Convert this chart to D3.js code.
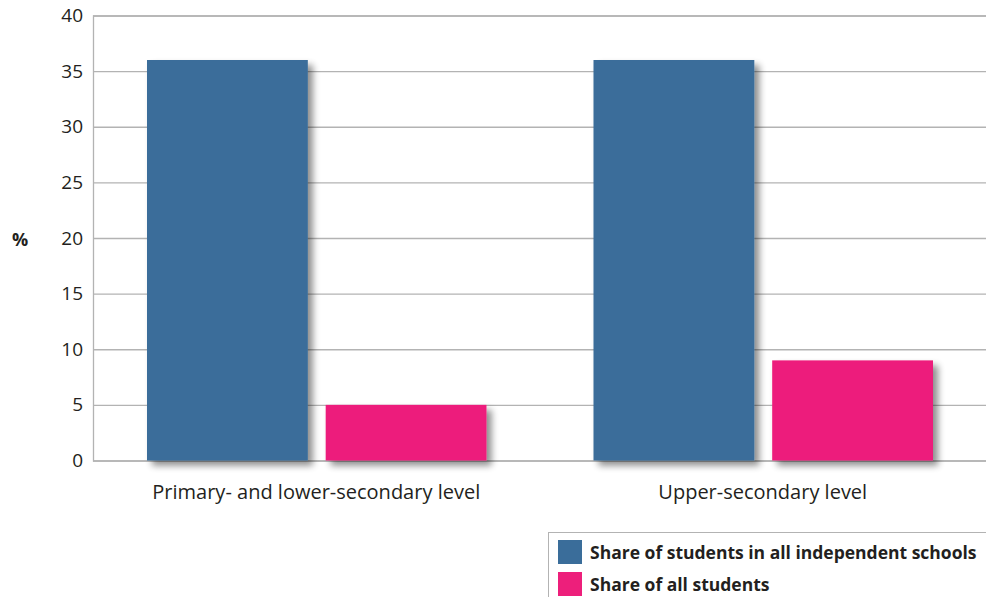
<!DOCTYPE html>
<html><head><meta charset="utf-8">
<script src="https://cdn.jsdelivr.net/npm/d3@7"></script>
<style>body{margin:0;background:#fff;}svg{display:block;font-family:"Open Sans","Noto Sans",sans-serif;}</style>
</head><body>
<svg id="c" width="986" height="597"></svg>
<script>
const categories = ["Primary- and lower-secondary level", "Upper-secondary level"];
const seriesNames = ["Share of students in all independent schools", "Share of all students"];
const independentShare = [36, 36];
const allStudentsShare = [5, 9];
const yTicks = [0, 5, 10, 15, 20, 25, 30, 35, 40];
const colors = ["#3a6d9a", "#ed1f7b"];

const svg = d3.select("#c");
const m = {left: 93, right: 986, top: 15.5, bottom: 460.5};
const x0 = d3.scaleBand().domain(categories).range([m.left, m.right]).paddingInner(0).paddingOuter(0);
const x1 = d3.scaleBand().domain(seriesNames).range([54, x0.bandwidth() - 53]).paddingInner(0.1);
const y = d3.scaleLinear().domain([0, 40]).range([m.bottom, m.top]);

const defs = svg.append("defs");
const f = defs.append("filter").attr("id", "sh").attr("x", "-20%").attr("y", "-20%").attr("width", "150%").attr("height", "150%");
f.append("feGaussianBlur").attr("in", "SourceAlpha").attr("stdDeviation", 3.5).attr("result", "b");
f.append("feOffset").attr("in", "b").attr("dx", 5).attr("dy", 5).attr("result", "o");
f.append("feComponentTransfer").attr("in", "o").attr("result", "o2").append("feFuncA").attr("type", "linear").attr("slope", 0.45);
const fm = f.append("feMerge");
fm.append("feMergeNode").attr("in", "o2");
fm.append("feMergeNode").attr("in", "SourceGraphic");

// grid
const yAxis = d3.axisLeft(y).tickValues(yTicks).tickSize(-(m.right - m.left)).tickPadding(10);
const gy = svg.append("g").attr("transform", `translate(${m.left},0)`).call(yAxis);
gy.select(".domain").attr("stroke", "#b3b3b3").attr("stroke-width", 1.3);
gy.selectAll(".tick line").attr("stroke", "#b3b3b3").attr("stroke-width", 1.3);
gy.selectAll(".tick text").attr("font-size", 19).attr("fill", "#231f20").attr("font-family", '"Open Sans",sans-serif');

svg.append("text").attr("x", 20).attr("y", 246).attr("text-anchor", "middle")
  .attr("font-size", 18).attr("font-weight", "bold").attr("fill", "#231f20").text("%");

const data = categories.map((c, i) => ({cat: c, vals: [independentShare[i], allStudentsShare[i]]}));
const groups = svg.append("g").selectAll("g").data(data).join("g")
  .attr("transform", d => `translate(${x0(d.cat)},0)`);
groups.selectAll("rect").data(d => d.vals.map((v, j) => ({s: seriesNames[j], v, j}))).join("rect")
  .attr("x", d => x1(d.s)).attr("width", x1.bandwidth())
  .attr("y", d => y(d.v)).attr("height", d => y(0) - y(d.v))
  .attr("fill", d => colors[d.j]).attr("filter", "url(#sh)");

// x labels
svg.append("g").selectAll("text").data(categories).join("text")
  .attr("x", d => x0(d) + x0.bandwidth() / 2).attr("y", 499).attr("text-anchor", "middle")
  .attr("font-size", 20).attr("fill", "#231f20").text(d => d);

// legend
const lg = svg.append("g");
lg.append("rect").attr("x", 548.5).attr("y", 532.5).attr("width", 450).attr("height", 80)
  .attr("fill", "none").attr("stroke", "#b3b3b3").attr("stroke-width", 1);
const li = lg.selectAll("g").data(seriesNames).join("g").attr("transform", (d, i) => `translate(558,${540 + i * 32})`);
li.append("rect").attr("width", 24).attr("height", 24).attr("fill", (d, i) => colors[i]);
li.append("text").attr("x", 32).attr("y", 18.5).attr("font-size", 17.5).attr("font-weight", "bold")
  .attr("fill", "#231f20").text(d => d);
</script>
</body></html>
